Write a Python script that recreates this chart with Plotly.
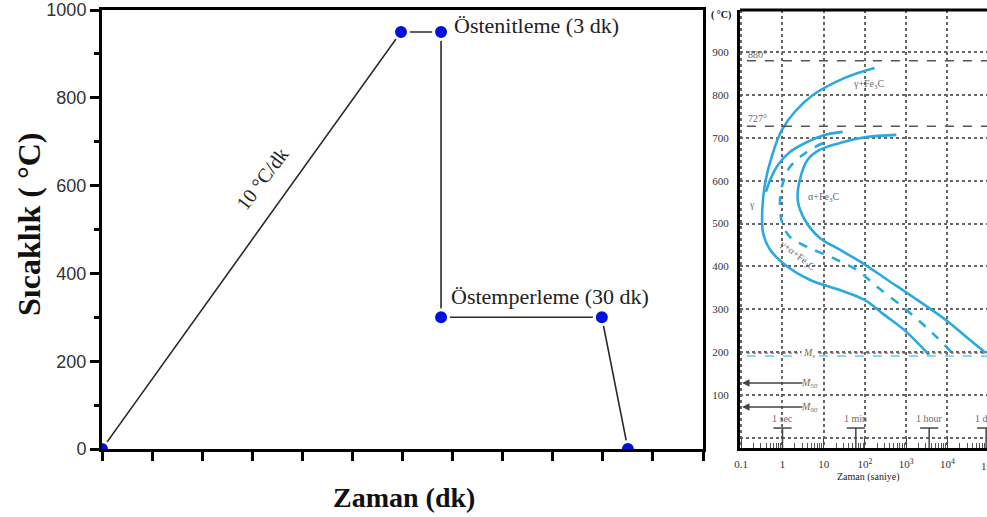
import plotly.graph_objects as go
import numpy as np

W, H = 987, 517

# ---------------- left chart data (schematic heat treatment) ----------------
stage_x = [0, 5.97, 6.77, 6.77, 9.98, 10.50]
stage_T = [0, 950, 950, 300, 300, 0]
left_yticks = [0, 200, 400, 600, 800, 1000]

# ---------------- right chart data (TTT diagram) ----------------
# times in seconds, temperatures in C
curveA_t = [10**v for v in [2.23, 1.51, 0.74, 0.30, -0.01, -0.25, -0.42, -0.49, -0.47, -0.30, 0.06, 0.66, 1.39, 1.99, 2.47, 2.95, 3.55]]
curveA_T = [863, 840, 800, 761, 719, 660, 595, 532, 478, 439, 404, 369, 345, 322, 287, 252, 194]
curveB_t = [10**v for v in [1.46, 1.02, 0.61, 0.18, -0.11, -0.30, -0.40]]
curveB_T = [714, 707, 691, 667, 637, 602, 574]
curveD_t = [10**v for v in [0.98, 0.59, 0.18, 0.01, -0.06, -0.01, 0.18, 0.59, 1.22, 1.80, 2.30, 3.00, 3.63, 4.16]]
curveD_T = [688, 667, 632, 595, 555, 502, 469, 446, 420, 392, 352, 299, 245, 194]
curveC_t = [10**v for v in [2.76, 2.04, 1.39, 0.90, 0.61, 0.42, 0.37, 0.54, 0.90, 1.39, 1.94, 2.54, 3.19, 3.96, 4.45, 4.93]]
curveC_T = [707, 702, 688, 672, 649, 602, 555, 509, 467, 439, 408, 369, 327, 275, 236, 198]

right_xticks = [0.1, 1, 10, 100, 1000, 10000]
right_xtext = ['0.1', '1', '10', '10<sup>2</sup>', '10<sup>3</sup>', '10<sup>4</sup>']
right_yticks = [0, 100, 200, 300, 400, 500, 600, 700, 800, 900]
right_ytext = ['', '100', '200', '300', '400', '500', '600', '700', '800', '900']
ms_T, ms_line_T, m50_T, m90_T = 198, 191, 128, 72
line_880, line_727 = 880, 727
time_marks = [1, 60, 3600, 86400]
time_labels = ['1 sec', '1 min', '1 hour', '1 day']
mark_bar_T, mark_text_T = 23, 46

cyan = '#2aa9e0'
serif = 'Liberation Serif, Times New Roman, serif'
sans = 'Liberation Sans, Arial, sans-serif'

fig = go.Figure()

# left chart line + markers
fig.add_trace(go.Scatter(x=stage_x, y=stage_T, mode='lines+markers',
                         line=dict(color='#2a2a2a', width=1.6),
                         marker=dict(color='#0010e0', size=15, line=dict(color='white', width=3)),
                         xaxis='x', yaxis='y', showlegend=False))

# right chart curves
for t, T, dash in [(curveA_t, curveA_T, 'solid'), (curveB_t, curveB_T, 'solid'),
                   (curveD_t, curveD_T, 'dash'), (curveC_t, curveC_T, 'solid')]:
    fig.add_trace(go.Scatter(x=t, y=T, mode='lines', line=dict(color=cyan, width=2.6, dash=dash, shape='spline'),
                             xaxis='x2', yaxis='y2', showlegend=False))

# time markers (T shapes)
bx, by = [], []
for tm in time_marks:
    bx += [tm * 10**-0.22, tm * 10**0.22, None, tm, tm, None]
    by += [mark_bar_T, mark_bar_T, None, mark_bar_T, -24, None]
fig.add_trace(go.Scatter(x=bx, y=by, mode='lines', line=dict(color='#444', width=1.5),
                         xaxis='x2', yaxis='y2', showlegend=False))

lyd = [1 - 449 / H, 1 - 10 / H]
ryd = [1 - 448 / H, 1 - 10 / H]

fig.update_layout(
    width=W, height=H, margin=dict(l=0, r=0, t=0, b=0),
    paper_bgcolor='white', plot_bgcolor='white',
    xaxis=dict(domain=[102 / W, 703 / W], range=[0, 12], dtick=1, tick0=0,
               showticklabels=False, ticks='outside', ticklen=9, tickwidth=2.5, tickcolor='black',
               showline=True, linewidth=3, linecolor='black', mirror=True, showgrid=False,
               zeroline=False, automargin=False, layer='above traces', fixedrange=True),
    yaxis=dict(domain=lyd, range=[0, 1000], tickvals=left_yticks, ticks='outside', ticklen=9,
               tickwidth=2.5, tickcolor='black', showline=True, linewidth=3, linecolor='black',
               mirror=True, showgrid=False, zeroline=False, automargin=False, layer='above traces',
               tickfont=dict(family=sans, size=18, color='#333'),
               minor=dict(dtick=100, ticks='outside', ticklen=5, tickwidth=2.5, tickcolor='black', showgrid=False)),
    xaxis2=dict(domain=[740 / W, 1], type='log', range=[-1.03, 4.958], tickvals=right_xticks,
                ticktext=right_xtext, ticks='inside', ticklen=10, tickwidth=1.2, tickcolor='#444',
                showline=True, linewidth=3, linecolor='black', mirror=False,
                showgrid=True, gridcolor='#666', griddash='dot', gridwidth=1.6,
                zeroline=False, automargin=False, anchor='y2', ticklabelstandoff=4,
                tickfont=dict(family=serif, size=11, color='#333'),
                minor=dict(tickvals=[k * 10**d for d in range(-1, 5) for k in range(2, 10)],
                           ticks='inside', ticklen=5, tickwidth=1, tickcolor='#555', showgrid=False)),
    yaxis2=dict(domain=ryd, range=[-23.6, 998.4], tickvals=right_yticks, ticktext=right_ytext,
                ticks='', showline=True, linewidth=3, linecolor='black', mirror=False,
                showgrid=True, gridcolor='#666', griddash='dot', gridwidth=1.6,
                zeroline=False, automargin=False, anchor='x2', ticklabelstandoff=6,
                tickfont=dict(family=serif, size=11, color='#333')),
)

# top border of right chart
fig.add_shape(type='line', xref='x2 domain', yref='paper', x0=0, x1=1, y0=1 - 10 / H, y1=1 - 10 / H,
              line=dict(color='black', width=3))
# reference lines
for T, col, dash, w in [(line_880, '#555', 'dash', 1.5), (line_727, '#555', 'dash', 1.5),
                        (ms_T, '#8a6a6a', 'dot', 1.2), (ms_line_T, '#5fd0f0', 'dash', 1.6)]:
    fig.add_shape(type='line', xref='x2 domain', yref='y2', x0=0.028, x1=1, y0=T, y1=T,
                  line=dict(color=col, width=w, dash=dash))

ann = []
C = dict(xanchor='center', yanchor='middle', showarrow=False)
# left chart annotations
ann.append(dict(x=6.99, y=964, xref='x', yref='y', text='Östenitleme (3 dk)', showarrow=False,
                xanchor='left', yanchor='middle', font=dict(family=serif, size=22, color='#222')))
ann.append(dict(x=6.93, y=348, xref='x', yref='y', text='Östemperleme (30 dk)', showarrow=False,
                xanchor='left', yanchor='middle', font=dict(family=serif, size=22, color='#222')))
ann.append(dict(x=3.19, y=616, xref='x', yref='y', text='10 °C/dk', textangle=-53,
                font=dict(family=serif, size=20, color='#222'), **C))
ann.append(dict(x=404 / W, y=1 - 497 / H, xref='paper', yref='paper', text='<b>Zaman (dk)</b>',
                font=dict(family=serif, size=28, color='#111'), **C))
ann.append(dict(x=29 / W, y=1 - 225 / H, xref='paper', yref='paper', text='<b>Sıcaklık ( °C)</b>',
                textangle=-90, font=dict(family=serif, size=32, color='#111'), **C))

# right chart annotations
ann.append(dict(x=721 / W, y=1 - 15 / H, xref='paper', yref='paper', text='<b>( °C)</b>',
                font=dict(family=serif, size=10, color='#111'), **C))
ann.append(dict(x=868 / W, y=1 - 477 / H, xref='paper', yref='paper', text='Zaman (saniye)',
                font=dict(family=serif, size=10, color='#222'), **C))
ann.append(dict(x=989 / W, y=1 - 465 / H, xref='paper', yref='paper', text='10<sup>5</sup>',
                font=dict(family=serif, size=11, color='#333'), **C))
gray = '#6a6a6a'
for txt, xl, T, ang in [('880°', -0.6, 895, 0), ('727°', -0.6, 745, 0), ('γ+Fe<sub>3</sub>C', 2.1, 825, 0),
                        ('α+Fe<sub>3</sub>C', 1.0, 560, 0), ('γ', -0.75, 545, 0),
                        ('γ+α+Fe<sub>3</sub>C', 0.35, 425, 38)]:
    ann.append(dict(x=xl, y=T, xref='x2', yref='y2', text=txt, textangle=ang,
                    font=dict(family=serif, size=10, color=gray), **C))
for txt, T in [('M<sub>s</sub>', ms_T), ('M<sub>50</sub>', m50_T), ('M<sub>90</sub>', m90_T)]:
    ann.append(dict(x=0.65, y=T, xref='x2', yref='y2', text='<i>' + txt + '</i>',
                    font=dict(family=serif, size=10, color=gray), bgcolor='white', **C))
for T in [m50_T, m90_T]:
    ann.append(dict(x=-0.98, y=T, xref='x2', yref='y2', ax=0.52, ay=T, axref='x2', ayref='y2', text='',
                    showarrow=True, arrowhead=2, arrowsize=1, arrowwidth=1.5, arrowcolor='#444'))
for tm, lab in zip(time_marks, time_labels):
    ann.append(dict(x=np.log10(tm), y=mark_text_T, xref='x2', yref='y2', text=lab,
                    font=dict(family=serif, size=10, color=gray), **C))

fig.update_layout(annotations=ann)
fig.write_html('out.html')
